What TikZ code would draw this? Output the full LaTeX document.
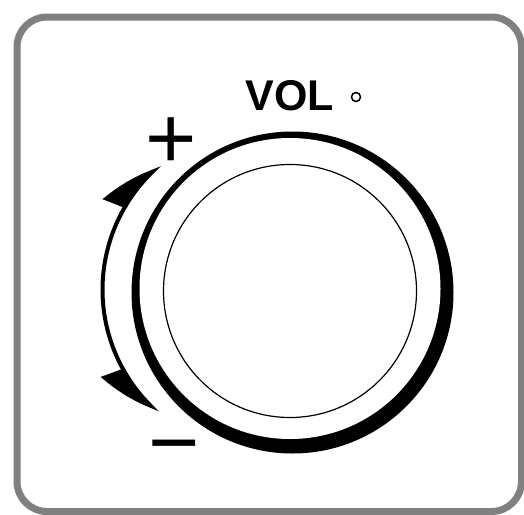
\documentclass[tikz,border=0pt]{standalone}
\usepackage{fontspec}
\setmainfont{Liberation Sans}
\usetikzlibrary{arrows.meta,bending}
\definecolor{framecol}{RGB}{128,128,128}

\begin{document}
\begin{tikzpicture}[x=1pt,y=-1pt,
    turntip/.tip={Stealth[harpoon,bend,length=55pt,width=46pt,inset=3pt]},
    turntipr/.tip={Stealth[harpoon,swap,bend,length=55pt,width=46pt,inset=3pt]}]
  \useasboundingbox(0,0) rectangle(524,514);
  \draw[framecol,line width=7pt,rounded corners=30pt](17,17) rectangle(521.5,511.5);
  % knob
  \fill[black](292.5,292.5) circle(161pt);
  \fill[white](290,288.5) circle(150.5pt);
  \draw[line width=1.2pt](290,291) circle(126.5pt);
  % labels
  \node[font=\bfseries\fontsize{43}{50}\selectfont](vol) at (290,96){VOL};
  \node[circle,draw,line width=1.5pt,inner sep=0pt,minimum size=9pt](volmark) at (356,97){};
  \node[font=\fontsize{88}{90}\selectfont](plus) at (171,143){+};
  \node[font=\fontsize{88}{90}\selectfont](minus) at (174,456){−};
  % turning direction
  \coordinate(plusend) at (160,165);
  \draw[line width=4pt,turntip-turntipr](plusend)
    arc[start angle=130.5,end angle=228.5,radius=164pt];
\end{tikzpicture}
\end{document}
